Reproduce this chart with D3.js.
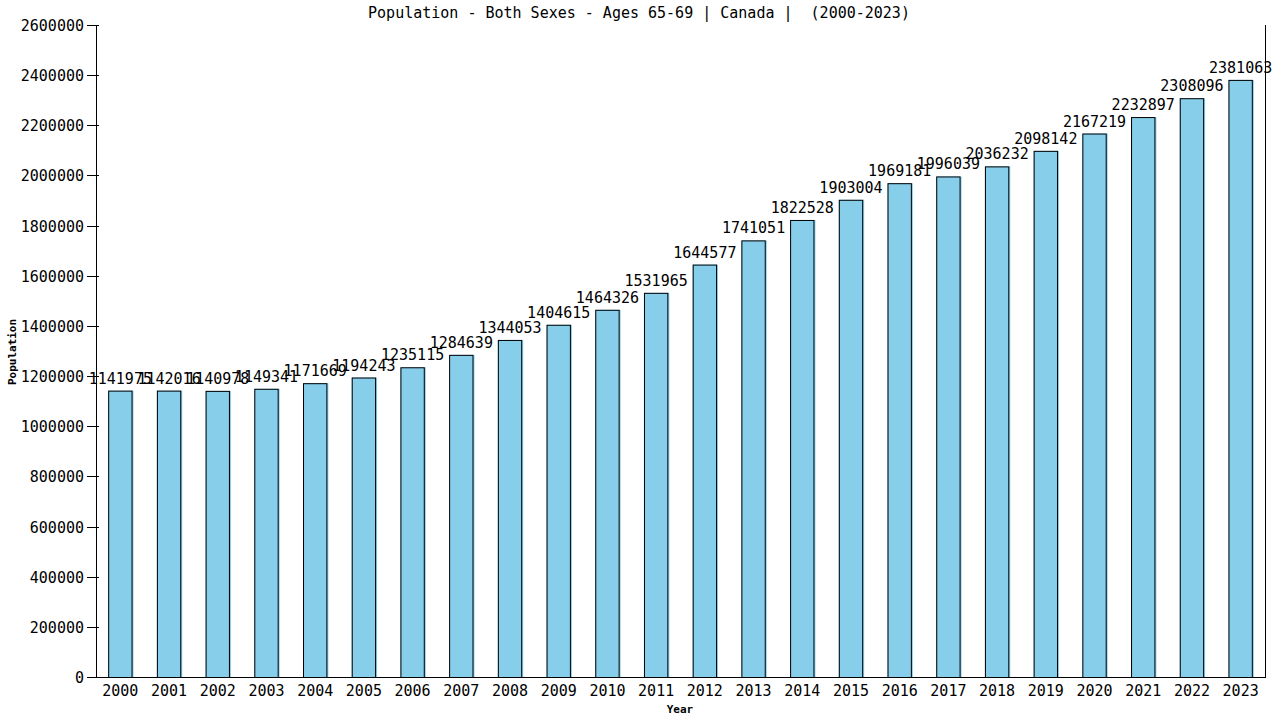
<!DOCTYPE html>
<html><head><meta charset="utf-8">
<script src="https://cdn.jsdelivr.net/npm/d3@7"></script>
<style>
body{margin:0;background:#fff;}
text{font-family:"DejaVu Sans Mono",monospace;}
</style></head>
<body>
<svg id="c" width="1280" height="720"></svg>
<script>
const years = ["2000","2001","2002","2003","2004","2005","2006","2007","2008","2009","2010","2011","2012","2013","2014","2015","2016","2017","2018","2019","2020","2021","2022","2023"];
const population = [1141975,1142016,1140978,1149341,1171669,1194243,1235115,1284639,1344053,1404615,1464326,1531965,1644577,1741051,1822528,1903004,1969181,1996039,2036232,2098142,2167219,2232897,2308096,2381063];
const yTicks = [0,200000,400000,600000,800000,1000000,1200000,1400000,1600000,1800000,2000000,2200000,2400000,2600000];
const title = "Population - Both Sexes - Ages 65-69 | Canada |  (2000-2023)";

const svg = d3.select("#c");
const L=96, R=1265, T=25, B=677;
const x = d3.scaleBand().domain(years).range([L,R]).paddingInner(0.5).paddingOuter(0.25);
const y = d3.scaleLinear().domain([0,2600000]).range([B,T]);

// bars
const g = svg.append("g");
years.forEach((yr,i)=>{
  const v = population[i];
  g.append("rect").attr("x",x(yr)).attr("y",y(v)).attr("width",x.bandwidth()+1).attr("height",B-y(v)).attr("fill","#87CEEB");
  g.append("rect").attr("x",x(yr)+0.5).attr("y",y(v)+0.5).attr("width",x.bandwidth()-1).attr("height",B-y(v)).attr("fill","none").attr("stroke","#000").attr("stroke-width",1);
});

// axes lines
svg.append("line").attr("x1",L+0.5).attr("x2",L+0.5).attr("y1",T).attr("y2",B).attr("stroke","#000");
svg.append("line").attr("x1",R+0.5).attr("x2",R+0.5).attr("y1",T).attr("y2",B).attr("stroke","#000");
svg.append("line").attr("x1",L).attr("x2",R+1).attr("y1",B+0.5).attr("y2",B+0.5).attr("stroke","#000");

// y ticks
yTicks.forEach(t=>{
  const yy = Math.round(y(t))+0.5;
  svg.append("line").attr("x1",L-9).attr("x2",L+3).attr("y1",yy).attr("y2",yy).attr("stroke","#000");
  svg.append("text").attr("x",L-12).attr("y",yy+5).attr("text-anchor","end").attr("font-size",15).text(t);
});

// x labels
years.forEach(yr=>{
  svg.append("text").attr("x",x(yr)+x.bandwidth()/2).attr("y",696).attr("text-anchor","middle").attr("font-size",15).text(yr);
});

// value labels
years.forEach((yr,i)=>{
  svg.append("text").attr("x",x(yr)+x.bandwidth()/2).attr("y",y(population[i])-7).attr("text-anchor","middle").attr("font-size",15).text(population[i]);
});

// title
svg.append("text").attr("x",639).attr("y",18).attr("text-anchor","middle").attr("font-size",15).style("white-space","pre").text(title);
// axis titles
svg.append("text").attr("x",680).attr("y",713).attr("text-anchor","middle").attr("font-size",11).attr("font-weight","bold").text("Year");
svg.append("text").attr("transform","translate(16,352) rotate(-90)").attr("text-anchor","middle").attr("font-size",11).attr("font-weight","bold").text("Population");
</script>
</body></html>
